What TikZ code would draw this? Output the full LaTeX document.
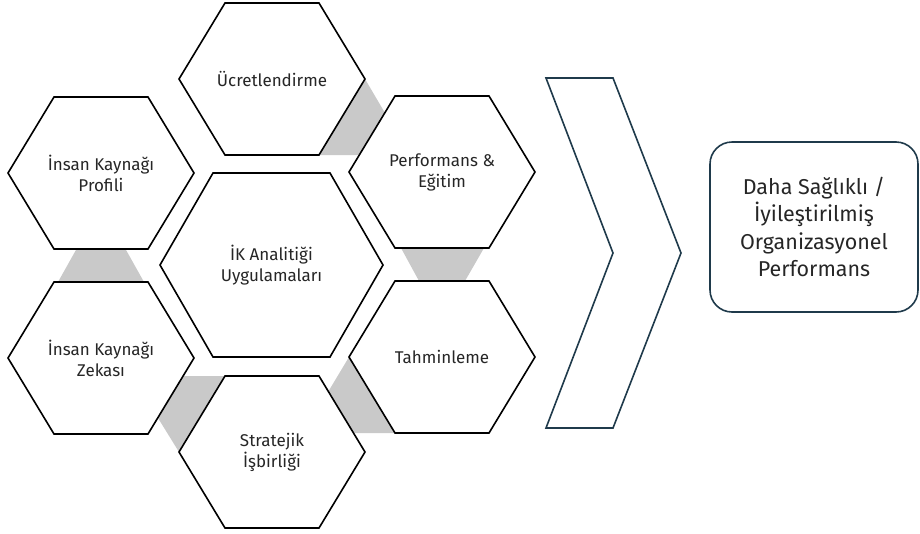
\documentclass[tikz,border=0pt]{standalone}
\usepackage{fontspec}
\setmainfont{Fira Sans}
\definecolor{slate}{HTML}{1F3A4B}
\definecolor{linkgray}{HTML}{C9C9C9}
\tikzset{
    hexline/.style={draw=black,line width=1.6pt,fill=white},
    hextext/.style={align=center,text=black!85,font=\fontsize{17}{21}\selectfont},
    link/.style={fill=linkgray},
    outbox/.style={draw=slate,line width=1.6pt,rounded corners=22pt,minimum width=208pt,minimum height=170pt,align=center,text=black!85,font=\fontsize{21.5}{27.5}\selectfont},
}

\begin{document}
\begin{tikzpicture}[x=1pt,y=-1pt]
    \useasboundingbox (0,0) rectangle (920,533);
    % centres of the hexagons
    \foreach \n/\x/\y in {ucret/272/79,perf/442/172,tahmin/442/357,strat/272/452,zeka/101/358,profil/101/173}
        \coordinate (c-\n) at (\x,\y);
    \coordinate (c-ik) at (271.5,265);
    % grey links between outer hexagons
    \fill[link] (c-ucret) ++(93,0) -- ++(20,34) -- ++(-25,42) -- ++(-41,0) -- cycle;
    \fill[link] (c-tahmin) ++(-93,0) -- ++(-21,35) -- ++(26,41) -- ++(41,0) -- cycle;
    \fill[link] (c-strat) ++(-93,0) -- ++(-21,-34) -- ++(25,-42) -- ++(42,0) -- cycle;
    \fill[link] (c-profil) ++(-24.5,76) -- ++(49,0) -- ++(18.5,33) -- ++(-86,0) -- cycle;
    \fill[link] (c-perf) ++(-41,76) -- ++(83,0) -- ++(-19,33) -- ++(-46,0) -- cycle;
    % hexagons
    \foreach \n in {ucret,perf,tahmin,strat,zeka,profil}
        \draw[hexline] (c-\n) ++(-93,0) -- ++(46,-76) -- ++(94,0) -- ++(46,76) -- ++(-46,76) -- ++(-94,0) -- cycle;
    \draw[hexline] (c-ik) ++(-111.5,0) -- ++(53,-92) -- ++(117,0) -- ++(53,92) -- ++(-53,92) -- ++(-117,0) -- cycle;
    % labels
    \node[hextext] (ucret) at (c-ucret) {Ücretlendirme};
    \node[hextext] (perf) at (c-perf) {Performans \&\\Eğitim};
    \node[hextext] (tahmin) at (c-tahmin) {Tahminleme};
    \node[hextext] (strat) at (c-strat) {Stratejik\\İşbirliği};
    \node[hextext] (zeka) at (c-zeka) {İnsan Kaynağı\\Zekası};
    \node[hextext] (profil) at (c-profil) {İnsan Kaynağı\\Profili};
    \node[hextext] (ik) at (c-ik) {İK Analitiği\\Uygulamaları};
    % chevron
    \draw[slate,line width=1.6pt] (546,78) -- (613,78) -- (681,253) -- (613,428) -- (546,428) -- (613,253) -- cycle;
    \node[outbox] (sonuc) at (814,227) {Daha Sağlıklı /\\İyileştirilmiş\\Organizasyonel\\Performans};
\end{tikzpicture}
\end{document}
